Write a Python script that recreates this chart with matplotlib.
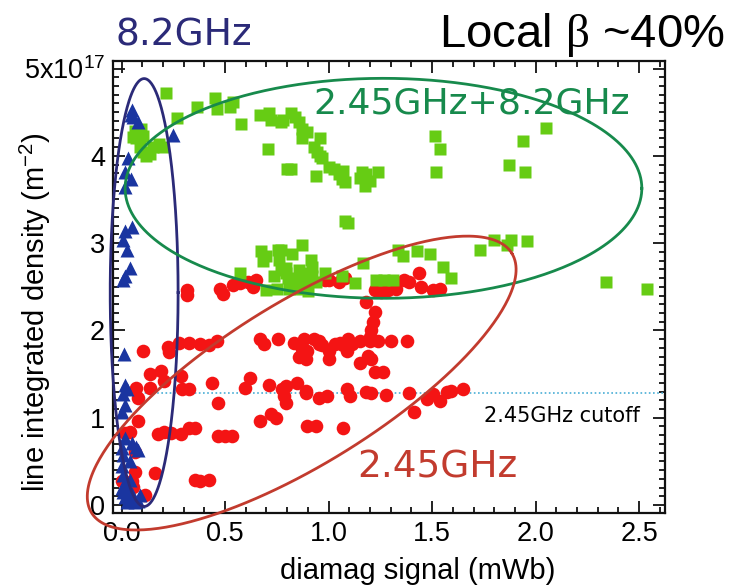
import numpy as np
import matplotlib
matplotlib.use("Agg")
from matplotlib import pyplot as plt
from matplotlib.ticker import MultipleLocator, FixedLocator, FixedFormatter

# diamag signal (mWb) vs line integrated density (1e17 m^-2)

# 8.2GHz only
x_82 = [0.048, 0.056, 0.044, 0.08, 0.246, 0.032, 0.016, 0.044, 0.016, 0.016,
        0.051, 0.008, 0.027, 0.04, 0.016, 0.008, 0.011, 0.016, 0.024, 0.008,
        0.016, 0.003, 0.016, 0.048, 0.071, 0.08, 0.003, 0.008, 0.04, 0.008,
        0.016, 0.032, 0.008, 0.048, 0.016, 0.087, 0.032, 0.056, 0.024, 0.064,
        0.08, 0.0, 0.04, 0.0]
y_82 = [4.52, 4.45, 4.47, 4.39, 4.24, 3.98, 3.81, 3.73, 3.64, 3.14,
        3.18, 3.04, 2.92, 2.71, 2.62, 2.58, 1.73, 1.38, 1.33, 1.27,
        1.15, 1.06, 0.77, 0.71, 0.67, 0.63, 0.65, 0.57, 0.50, 0.34,
        0.25, 0.19, 0.15, 0.13, 0.09, 0.11, 0.05, 0.07, 0.03, 0.04,
        0.05, 0.20, 0.29, 0.45]

# 2.45GHz only
x_245 = [0.318, 0.318, 0.476, 0.492, 0.54, 0.571, 0.611, 0.651, 0.635,
         0.984, 1.0, 1.048, 1.079, 1.183, 1.222, 1.254, 1.286, 1.325, 1.365,
         1.389, 1.437, 1.444, 1.505, 1.537,
         1.222, 1.214, 1.206, 1.198,
         0.103, 0.222, 0.23, 0.278, 0.325, 0.381, 0.42, 0.46, 0.667, 0.69,
         0.754, 0.833, 0.881, 0.897, 0.857, 0.952, 0.968, 1.0, 1.0, 1.03,
         0.929, 0.952, 0.873, 0.889, 1.056, 1.071, 1.095, 1.087, 1.111, 1.151,
         1.198, 1.238, 1.302, 1.381, 1.151, 1.19, 1.206, 1.222, 1.262,
         0.135, 0.19, 0.206, 0.286, 0.071, 0.135, 0.08, 0.294, 0.325, 0.437,
         0.465, 0.595, 0.619, 0.714, 0.775, 0.786, 0.794, 0.794, 0.849, 0.889,
         0.952, 0.992, 0.889, 1.087, 1.103, 1.183, 1.206, 1.278, 1.389, 1.473,
         1.505, 1.537, 1.57, 1.592, 1.65, 1.413,
         0.08, 0.016, 0.04, 0.175, 0.206, 0.238, 0.286, 0.325, 0.357, 0.468,
         0.5, 0.532, 0.667, 0.722, 0.746, 0.897, 0.937, 1.071,
         0.063, 0.063, 0.048, 0.056, 0.159, 0.111, 0.357, 0.381, 0.42, 0.0,
         0.024]
y_245 = [2.46, 2.41, 2.48, 2.42, 2.52, 2.54, 2.56, 2.58, 2.50,
         2.58, 2.58, 2.56, 2.60, 2.33, 2.46, 2.44, 2.46, 2.48, 2.58,
         2.56, 2.66, 2.50, 2.46, 2.48,
         2.21, 2.10, 2.00, 1.92,
         1.77, 1.81, 1.75, 1.86, 1.86, 1.85, 1.83, 1.88, 1.90, 1.85,
         1.90, 1.86, 1.90, 1.77, 1.69, 1.88, 1.83, 1.77, 1.67, 1.85,
         1.90, 1.85, 1.79, 1.67, 1.86, 1.83, 1.90, 1.77, 1.85, 1.88,
         1.88, 1.88, 1.88, 1.88, 1.63, 1.71, 1.67, 1.52, 1.52,
         1.50, 1.54, 1.42, 1.48, 1.34, 1.34, 1.23, 1.33, 1.33, 1.40,
         1.17, 1.34, 1.46, 1.38, 1.33, 1.25, 1.17, 1.36, 1.40, 1.31,
         1.23, 1.25, 1.28, 1.33, 1.25, 1.29, 1.28, 1.26, 1.28, 1.21,
         1.27, 1.19, 1.29, 1.31, 1.33, 1.06,
         0.96, 0.82, 0.84, 0.81, 0.84, 0.82, 0.81, 0.88, 0.88, 0.79,
         0.79, 0.79, 0.96, 1.04, 1.00, 0.90, 0.90, 0.88,
         0.61, 0.38, 0.27, 0.21, 0.37, 0.11, 0.29, 0.27, 0.29, 0.27,
         0.23]

# 2.45GHz + 8.2GHz
x_both = [0.214, 0.365, 0.452, 0.46, 0.524, 0.54, 0.579, 0.667, 0.714, 0.722,
          0.77, 0.706, 0.80, 0.27,
          0.056, 0.063, 0.095, 0.103, 0.071, 0.087, 0.103, 0.135, 0.151, 0.183,
          0.198, 0.119,
          0.778, 0.818, 0.84, 0.857, 0.873, 0.897, 0.873, 0.96, 0.929, 0.944,
          0.96, 0.968, 0.818, 0.937, 1.0, 1.024, 1.048, 1.071, 1.063, 1.079,
          1.159, 1.183, 1.198, 1.175, 1.238, 1.151,
          1.513, 1.537, 1.521, 1.94, 2.05, 1.87, 1.95,
          1.079, 1.095,
          0.675, 0.698, 0.754, 0.762, 0.683, 0.738, 0.77, 0.794, 0.571, 0.698,
          0.75, 0.81, 0.86, 0.90,
          0.77, 0.825, 0.873, 0.913, 0.92, 0.794, 0.857, 0.889, 0.92,
          0.802, 0.841, 0.889, 0.937, 0.984, 1.063, 1.127, 1.167, 1.23, 1.27,
          1.31, 1.333, 1.357, 1.429, 1.488, 1.553, 1.593,
          1.73, 1.80, 1.86, 1.88, 1.96, 2.34, 2.54]
y_both = [4.72, 4.56, 4.66, 4.54, 4.56, 4.62, 4.37, 4.47, 4.49, 4.41,
          4.39, 4.08, 3.85, 4.43,
          4.22, 4.29, 4.31, 4.23, 4.20, 4.10, 4.04, 4.02, 4.10, 4.14,
          4.10, 4.00,
          4.41, 4.49, 4.45, 4.39, 4.31, 4.27, 4.20, 4.20, 4.10, 4.04,
          4.00, 3.97, 3.85, 3.77, 3.87, 3.85, 3.79, 3.83, 3.73, 3.70,
          3.81, 3.79, 3.71, 3.66, 3.81, 3.75,
          4.23, 4.08, 3.81, 4.17, 4.32, 3.90, 3.81,
          3.25, 3.23,
          2.91, 2.85, 2.92, 2.81, 2.79, 2.62, 2.69, 2.66, 2.66, 2.46,
          2.48, 2.47, 2.47, 2.45,
          2.92, 2.87, 2.98, 2.81, 2.73, 2.71, 2.69, 2.66, 2.62,
          2.60, 2.58, 2.54, 2.56, 2.66, 2.62, 2.54, 2.77, 2.58, 2.58,
          2.58, 2.92, 2.85, 2.91, 2.87, 2.73, 2.60,
          2.92, 3.04, 2.98, 3.04, 3.02, 2.55, 2.47]

CUTOFF_245 = 1.28  # 2.45GHz cutoff density

NAVY = "#2b2a78"
BLUE = "#1a35a0"
LIME = "#66cc14"
DKGREEN = "#178a4c"
RED = "#f41414"
BRICK = "#c23b2e"

plt.rcParams.update({
    "font.family": "Liberation Sans",
    "mathtext.fontset": "custom",
    "mathtext.rm": "Liberation Serif",
    "mathtext.sf": "Liberation Sans",
    "mathtext.it": "Liberation Sans:italic",
})

fig = plt.figure(figsize=(7.31, 5.87), dpi=100)
ax = fig.add_axes([0.155, 0.126, 0.755, 0.770])

ax.plot(x_245, y_245, "o", ms=9.8, color=RED, mec="none", zorder=3)
ax.plot(x_both, y_both, "s", ms=8.6, color=LIME, mec="none", zorder=4)
ax.plot(x_82, y_82, "^", ms=9.5, color=BLUE, mec="none", zorder=5)

XMIN, XMAX = -0.04, 2.626
YMIN, YMAX = -0.092, 5.086

ax.hlines(CUTOFF_245, 0.03, XMAX, colors="#49aed6", linestyles=(0, (1, 1.5)),
          lw=1.2, zorder=2)


def ellipse(cx, cy, u, v, color):
    t = np.linspace(0, 2 * np.pi, 400)
    ex = cx + u[0] * np.cos(t) + v[0] * np.sin(t)
    ey = cy + u[1] * np.cos(t) + v[1] * np.sin(t)
    ax.plot(ex, ey, color=color, lw=2.0, zorder=6, clip_on=False)


ellipse(0.109, 2.434, (0.164, 0.0), (0.0, 2.451), NAVY)
ellipse(1.265, 3.628, (1.248, 0.0), (0.0, 1.26), DKGREEN)
ellipse(0.870, 1.397, (1.015, 1.487), (0.206, -0.789), BRICK)

ax.set_xlim(XMIN, XMAX)
ax.set_ylim(YMIN, YMAX)

ax.xaxis.set_major_locator(MultipleLocator(0.5))
ax.xaxis.set_minor_locator(MultipleLocator(0.1))
ax.xaxis.set_major_formatter(matplotlib.ticker.FormatStrFormatter("%.1f"))
ax.yaxis.set_major_locator(FixedLocator([0, 1, 2, 3, 4, 5]))
ax.yaxis.set_major_formatter(FixedFormatter(
    ["0", "1", "2", "3", "4", r"5x10$^{\mathsf{17}}$"]))
ax.yaxis.set_minor_locator(MultipleLocator(0.1))

ax.tick_params(which="both", direction="in", top=True, right=True,
               width=1.3, color="#111111")
ax.tick_params(which="major", length=8.5, labelsize=19.5)
ax.tick_params(axis="x", which="major", pad=6)
ax.tick_params(axis="y", which="major", pad=6)
ax.tick_params(which="minor", length=4.2)
for sp in ax.spines.values():
    sp.set_linewidth(1.6)
    sp.set_color("#111111")

fig.text(418 / 731, 1 - 571 / 587, "diamag signal (mWb)", fontsize=21,
         ha="center", va="center")
fig.text(35 / 731, 1 - 312 / 587, r"line integrated density (m$^{\mathsf{-2}}$)",
         fontsize=21, rotation=90, ha="center", va="center")

fig.text(115 / 731, 1 - 45 / 587, "8.2GHz", color=NAVY, fontsize=27,
         family="DejaVu Sans", ha="left", va="baseline")
fig.text(725 / 731, 1 - 47 / 587, r"Local $\mathrm{\beta}$ ~40%", color="black",
         fontsize=34, ha="right", va="baseline")
fig.text(313 / 731, 1 - 113 / 587, "2.45GHz+8.2GHz", color=DKGREEN, fontsize=26,
         family="DejaVu Sans", ha="left", va="baseline", zorder=7)
fig.text(357 / 731, 1 - 478 / 587, "2.45GHz", color=BRICK, fontsize=27,
         family="DejaVu Sans", ha="left", va="baseline")
fig.text(484 / 731, 1 - 422 / 587, "2.45GHz cutoff", color="black", fontsize=15,
         family="DejaVu Sans", ha="left", va="baseline")

fig.savefig("out.png", dpi=100)
